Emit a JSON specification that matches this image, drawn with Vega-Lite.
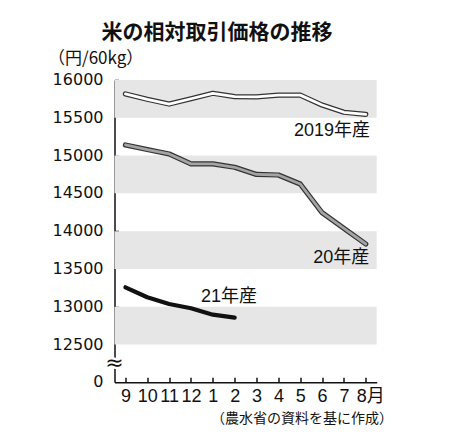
{
  "$schema": "https://vega.github.io/schema/vega-lite/v6.json",
  "autosize": "none",
  "padding": {"left": 114.5, "top": 80, "right": 94.3, "bottom": 59.7},
  "width": 262.2,
  "height": 302.3,
  "background": "white",
  "title": {
    "text": "米の相対取引価格の推移",
    "font": "Noto Sans CJK JP",
    "fontSize": 21,
    "fontWeight": "bold",
    "color": "#111",
    "anchor": "start",
    "frame": "group",
    "dx": -13,
    "dy": -2
  },
  "config": {"view": {"stroke": null}},
  "datasets": {
    "bands": [
      {"lo": 15500, "hi": 16000},
      {"lo": 14500, "hi": 15000},
      {"lo": 13500, "hi": 14000},
      {"lo": 12500, "hi": 13000}
    ],
    "ticks": [
      {"v": 12000, "lab": "0"},
      {"v": 12500, "lab": "12500"},
      {"v": 13000, "lab": "13000"},
      {"v": 13500, "lab": "13500"},
      {"v": 14000, "lab": "14000"},
      {"v": 14500, "lab": "14500"},
      {"v": 15000, "lab": "15000"},
      {"v": 15500, "lab": "15500"},
      {"v": 16000, "lab": "16000"}
    ],
    "brk": [{"sym": "≈"}],
    "prices": [
      {"series": "2019年産", "month": "9", "price": 15815},
      {"series": "2019年産", "month": "10", "price": 15745},
      {"series": "2019年産", "month": "11", "price": 15682},
      {"series": "2019年産", "month": "12", "price": 15752},
      {"series": "2019年産", "month": "1", "price": 15824},
      {"series": "2019年産", "month": "2", "price": 15780},
      {"series": "2019年産", "month": "3", "price": 15776},
      {"series": "2019年産", "month": "4", "price": 15800},
      {"series": "2019年産", "month": "5", "price": 15800},
      {"series": "2019年産", "month": "6", "price": 15669},
      {"series": "2019年産", "month": "7", "price": 15573},
      {"series": "2019年産", "month": "8", "price": 15546},
      {"series": "20年産", "month": "9", "price": 15140},
      {"series": "20年産", "month": "10", "price": 15080},
      {"series": "20年産", "month": "11", "price": 15021},
      {"series": "20年産", "month": "12", "price": 14890},
      {"series": "20年産", "month": "1", "price": 14890},
      {"series": "20年産", "month": "2", "price": 14845},
      {"series": "20年産", "month": "3", "price": 14750},
      {"series": "20年産", "month": "4", "price": 14743},
      {"series": "20年産", "month": "5", "price": 14624},
      {"series": "20年産", "month": "6", "price": 14244},
      {"series": "20年産", "month": "7", "price": 14037},
      {"series": "20年産", "month": "8", "price": 13830},
      {"series": "21年産", "month": "9", "price": 13257},
      {"series": "21年産", "month": "10", "price": 13125},
      {"series": "21年産", "month": "11", "price": 13036},
      {"series": "21年産", "month": "12", "price": 12980},
      {"series": "21年産", "month": "1", "price": 12895},
      {"series": "21年産", "month": "2", "price": 12856}
    ]
  },
  "layer": [
    {
      "data": {"name": "bands"},
      "mark": {"type": "rect", "color": "#e6e6e6"},
      "encoding": {
        "y": {
          "field": "lo",
          "type": "quantitative",
          "title": "（円/60kg）",
          "scale": {"domain": [12000, 16000], "nice": false, "zero": false},
          "axis": {
            "values": [12000, 12500, 13000, 13500, 14000, 14500, 15000, 15500, 16000],
            "labels": false,
            "tickSize": -4,
            "tickWidth": 1.5,
            "tickColor": {"condition": {"test": "datum.value == 12000", "value": "transparent"}, "value": "#111"},
            "domainColor": "#111",
            "domainWidth": 1.5,
            "grid": false,
            "titleFont": "Noto Sans CJK JP",
            "titleFontSize": 17,
            "titleFontWeight": "normal",
            "titleColor": "#111",
            "titleAngle": 0,
            "titleAlign": "left",
            "titleBaseline": "middle",
            "titleX": -67,
            "titleY": -22
          }
        },
        "y2": {"field": "hi"}
      }
    },
    {
      "data": {"name": "prices"},
      "encoding": {
        "x": {
          "field": "month",
          "type": "nominal",
          "title": "（農水省の資料を基に作成）",
          "scale": {"type": "point", "domain": ["9", "10", "11", "12", "1", "2", "3", "4", "5", "6", "7", "8"], "padding": 0.5},
          "axis": {
            "labelExpr": "datum.value == '8' ? '8月' : datum.value",
            "labelAngle": 0,
            "labelOverlap": false,
            "labelFont": "Liberation Sans, Noto Sans CJK JP",
            "labelFontSize": 18,
            "labelColor": "#111",
            "labelAlign": {"condition": {"test": "datum.value == '8'", "value": "left"}, "value": "center"},
            "labelOffset": {"condition": {"test": "datum.value == '8'", "value": -9.5}, "value": 0},
            "labelPadding": 10,
            "tickSize": -5,
            "tickWidth": 1.5,
            "tickColor": "#111",
            "domainColor": "#111",
            "domainWidth": 1.5,
            "titleFont": "Noto Sans CJK JP",
            "titleFontSize": 14,
            "titleFontWeight": "normal",
            "titleColor": "#111",
            "titleAlign": "right",
            "titleBaseline": "middle",
            "titleX": 278,
            "titleY": 36
          }
        },
        "y": {
          "field": "price",
          "type": "quantitative",
          "title": "（円/60kg）",
          "axis": {
            "values": [12000, 12500, 13000, 13500, 14000, 14500, 15000, 15500, 16000],
            "labels": false,
            "tickSize": -4,
            "tickWidth": 1.5,
            "tickColor": {"condition": {"test": "datum.value == 12000", "value": "transparent"}, "value": "#111"},
            "domainColor": "#111",
            "domainWidth": 1.5,
            "grid": false,
            "titleFont": "Noto Sans CJK JP",
            "titleFontSize": 17,
            "titleFontWeight": "normal",
            "titleColor": "#111",
            "titleAngle": 0,
            "titleAlign": "left",
            "titleBaseline": "middle",
            "titleX": -67,
            "titleY": -22
          }
        }
      },
      "layer": [
        {
          "transform": [{"filter": "datum.series != '21年産'"}],
          "mark": {"type": "line", "stroke": "#333", "strokeWidth": 5.2, "strokeCap": "round", "strokeJoin": "round"},
          "encoding": {"detail": {"field": "series"}, "order": {"value": null}}
        },
        {
          "transform": [{"filter": "datum.series != '21年産'"}],
          "mark": {"type": "line", "strokeWidth": 2.8, "strokeCap": "round", "strokeJoin": "round"},
          "encoding": {
            "color": {
              "field": "series",
              "type": "nominal",
              "scale": {"domain": ["2019年産", "20年産"], "range": ["#ffffff", "#a4a4a4"]},
              "legend": null
            },
            "order": {"value": null}
          }
        },
        {
          "transform": [{"filter": "datum.series == '21年産'"}],
          "mark": {"type": "line", "stroke": "#111", "strokeWidth": 4.2, "strokeCap": "round", "strokeJoin": "round"},
          "encoding": {"order": {"value": null}}
        },
        {
          "transform": [{"filter": "datum.series == '2019年産' && datum.month == '8'"}],
          "mark": {"type": "text", "align": "right", "baseline": "middle", "dx": 4.3, "dy": 16.7, "font": "Liberation Sans, Noto Sans CJK JP", "fontSize": 18, "color": "#111"},
          "encoding": {"text": {"field": "series"}}
        },
        {
          "transform": [{"filter": "datum.series == '20年産' && datum.month == '8'"}],
          "mark": {"type": "text", "align": "right", "baseline": "middle", "dx": 3.6, "dy": 14.3, "font": "Liberation Sans, Noto Sans CJK JP", "fontSize": 18, "color": "#111"},
          "encoding": {"text": {"field": "series"}}
        },
        {
          "transform": [{"filter": "datum.series == '21年産' && datum.month == '2'"}],
          "mark": {"type": "text", "align": "right", "baseline": "middle", "dx": 22.4, "dy": -20.7, "font": "Liberation Sans, Noto Sans CJK JP", "fontSize": 18, "color": "#111"},
          "encoding": {"text": {"field": "series"}}
        }
      ]
    },
    {
      "data": {"name": "ticks"},
      "mark": {"type": "text", "align": "right", "baseline": "middle", "dx": -21.9, "font": "DejaVu Sans", "fontSize": 16, "color": "#111"},
      "encoding": {
        "x": {"datum": "9", "type": "nominal", "title": "（農水省の資料を基に作成）"},
        "y": {"field": "v", "type": "quantitative", "title": "（円/60kg）"},
        "text": {"field": "lab"}
      }
    },
    {
      "data": {"name": "brk"},
      "mark": {"type": "text", "align": "center", "baseline": "middle", "dx": -10.9, "font": "DejaVu Sans", "fontSize": 22, "color": "white", "stroke": "white", "strokeWidth": 5},
      "encoding": {
        "x": {"datum": "9", "type": "nominal", "title": "（農水省の資料を基に作成）"},
        "y": {"datum": 12250, "type": "quantitative", "title": "（円/60kg）"},
        "text": {"field": "sym"}
      }
    },
    {
      "data": {"name": "brk"},
      "mark": {"type": "text", "align": "center", "baseline": "middle", "dx": -10.9, "font": "DejaVu Sans", "fontSize": 22, "color": "#111"},
      "encoding": {
        "x": {"datum": "9", "type": "nominal", "title": "（農水省の資料を基に作成）"},
        "y": {"datum": 12250, "type": "quantitative", "title": "（円/60kg）"},
        "text": {"field": "sym"}
      }
    }
  ]
}
